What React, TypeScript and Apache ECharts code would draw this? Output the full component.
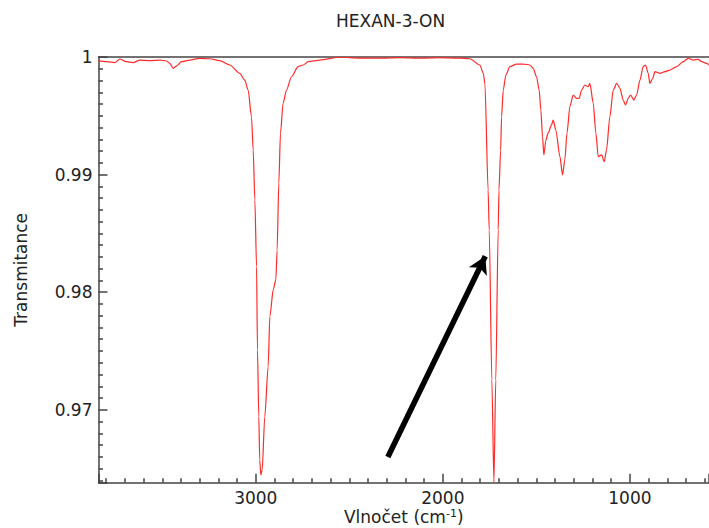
import React, { useEffect, useRef } from "react";
import * as echarts from "echarts";

const chartTitle = "HEXAN-3-ON";
const xAxisName = "Vlnočet (cm{sup|-1})";
const yAxisName = "Transmitance";

const wavenumbers = [
  3843, 3798, 3754, 3727, 3692, 3656, 3620, 3567, 3513, 3478, 3460, 3442, 3424, 3397, 3353, 3300,
  3246, 3193, 3139, 3086, 3059, 3041, 3023, 3014, 3005, 2996, 2991, 2984, 2979, 2973, 2966, 2952,
  2934, 2925, 2907, 2893, 2886, 2877, 2868, 2854, 2836, 2809, 2774, 2747, 2720, 2658, 2551, 2444,
  2337, 2230, 2123, 2016, 1909, 1856, 1802, 1784, 1775, 1758, 1752, 1738, 1727, 1717, 1704, 1700,
  1691, 1686, 1677, 1663, 1642, 1606, 1571, 1535, 1517, 1499, 1485, 1476, 1467, 1460, 1449, 1437,
  1419, 1410, 1396, 1374, 1360, 1348, 1336, 1321, 1303, 1285, 1271, 1258, 1241, 1223, 1214, 1196,
  1182, 1169, 1151, 1137, 1125, 1107, 1089, 1071, 1053, 1036, 1023, 1009, 996, 979, 964, 946,
  929, 916, 902, 893, 878, 866, 839, 813, 786, 750, 715, 688, 661, 635, 616, 590, 577,
];

const transmittance = [
  0.99969, 0.9996, 0.99952, 0.99983, 0.9996, 0.99952, 0.99974, 0.99969, 0.99974, 0.99966, 0.99946,
  0.99904, 0.99923, 0.9996, 0.99974, 0.99989, 0.99985, 0.9997, 0.99932, 0.99861, 0.99804, 0.99719,
  0.99492, 0.99209, 0.98784, 0.98217, 0.97509, 0.96941, 0.96573, 0.96446, 0.96488, 0.96941, 0.97367,
  0.97792, 0.98019, 0.98104, 0.98359, 0.98929, 0.99354, 0.99609, 0.99719, 0.99832, 0.99918, 0.99932,
  0.9996, 0.99974, 0.99998, 0.9999, 0.9999, 0.99995, 0.9999, 0.99995, 0.9999, 0.99985, 0.99932,
  0.99861, 0.99776, 0.98869, 0.98529, 0.97254, 0.9638, 0.97254, 0.98529, 0.98869, 0.99209, 0.99492,
  0.99719, 0.99847, 0.99918, 0.9994, 0.9994, 0.99932, 0.99904, 0.99832, 0.99719, 0.99549, 0.99322,
  0.99167, 0.99294, 0.99354, 0.99422, 0.99464, 0.99379, 0.99152, 0.98997, 0.99124, 0.99354, 0.99577,
  0.99677, 0.99649, 0.99649, 0.99719, 0.99762, 0.99747, 0.99776, 0.99609, 0.99354, 0.99152, 0.99167,
  0.9911, 0.99209, 0.99492, 0.99719, 0.99776, 0.99734, 0.99634, 0.99592, 0.99649, 0.99677, 0.99634,
  0.99677, 0.99804, 0.99918, 0.99932, 0.99861, 0.99776, 0.99819, 0.99875, 0.99861, 0.99875, 0.99889,
  0.99918, 0.9996, 0.99989, 0.99974, 0.9998, 0.9996, 0.99946, 0.99932,
];

const xTickLabels = [1000, 2000, 3000];
const yTickLabels = [0.97, 0.98, 0.99, 1];

// annotation arrow (tail -> head) in data coordinates
const arrowTail = [2294, 0.96599];
const arrowHead = [1773, 0.98306];

const X_MIN = 577;
const X_MAX = 3841;
const Y_MIN = 0.9638;
const Y_MAX = 1;

const FONT = "DejaVu Sans";

export default function App() {
  const ref = useRef<HTMLDivElement>(null);

  useEffect(() => {
    if (!ref.current) return;
    const chart = echarts.init(ref.current, undefined, { renderer: "svg" });
    const data = wavenumbers.map((w, i) => [w, transmittance[i]]);
    const axisLineStyle = { color: "#444", width: 1.5 };

    chart.setOption({
      animation: false,
      backgroundColor: "#fff",
      title: {
        text: chartTitle,
        left: 331,
        top: 7,
        textStyle: { fontFamily: FONT, fontSize: 17, fontWeight: "normal", color: "#222" },
      },
      grid: { left: 98.5, right: 0, top: 57, bottom: 45.3, containLabel: false, outerBoundsMode: "none" },
      xAxis: [
        {
          type: "value",
          min: X_MIN,
          max: X_MAX,
          inverse: true,
          splitNumber: 3,
          name: xAxisName,
          nameLocation: "middle",
          nameGap: 25,
          nameMoveOverlap: false,
          nameTextStyle: {
            fontFamily: FONT,
            fontSize: 17,
            color: "#222",
            verticalAlign: "top",
            rich: { sup: { fontFamily: FONT, fontSize: 11, color: "#222", padding: [0, 0, 8, 0] } },
          },
          axisLine: { show: true, lineStyle: axisLineStyle },
          axisTick: { show: true, inside: true, length: 9, lineStyle: axisLineStyle },
          minorTick: { show: true, splitNumber: 10, length: 4.5, lineStyle: axisLineStyle },
          splitLine: { show: false },
          axisLabel: {
            showMinLabel: false,
            showMaxLabel: false,
            margin: 7,
            fontFamily: FONT,
            fontSize: 17,
            color: "#222",
            formatter: (v: number) => (xTickLabels.includes(Math.round(v)) ? String(Math.round(v)) : ""),
          },
        },
        {
          type: "value",
          position: "top",
          min: X_MIN,
          max: X_MAX,
          inverse: true,
          axisLine: { show: true, lineStyle: axisLineStyle },
          axisTick: { show: false },
          axisLabel: { show: false },
          splitLine: { show: false },
        },
      ],
      yAxis: {
        type: "value",
        min: Y_MIN,
        max: Y_MAX,
        splitNumber: 4,
        name: yAxisName,
        nameLocation: "middle",
        nameGap: 69,
        nameMoveOverlap: false,
        nameTextStyle: { fontFamily: FONT, fontSize: 17, color: "#222" },
        axisLine: { show: true, lineStyle: axisLineStyle },
        axisTick: { show: true, inside: true, length: 9, lineStyle: axisLineStyle },
        minorTick: { show: true, splitNumber: 10, length: 4.5, lineStyle: axisLineStyle },
        splitLine: { show: false },
        axisLabel: {
          showMinLabel: false,
          margin: 6,
          fontFamily: FONT,
          fontSize: 17,
          color: "#222",
          formatter: (v: number) => {
            const r = parseFloat(v.toFixed(3));
            return yTickLabels.includes(r) ? String(r) : "";
          },
        },
      },
      series: [
        {
          type: "line",
          data,
          xAxisIndex: 0,
          showSymbol: false,
          symbol: "none",
          smooth: 0.25,
          smoothMonotone: "x",
          clip: true,
          lineStyle: { color: "#ff2b2b", width: 1.2 },
          silent: true,
          markLine: {
            silent: true,
            symbol: ["none", "arrow"],
            symbolSize: [15, 17],
            label: { show: false },
            lineStyle: { color: "#000", width: 5.5, type: "solid" },
            data: [[{ coord: arrowTail }, { coord: arrowHead }]],
          },
        },
      ],
    });

    return () => chart.dispose();
  }, []);

  return (
    <div
      ref={ref}
      style={{ position: "absolute", left: 0, top: 0, width: 709, height: 528 }}
    />
  );
}
